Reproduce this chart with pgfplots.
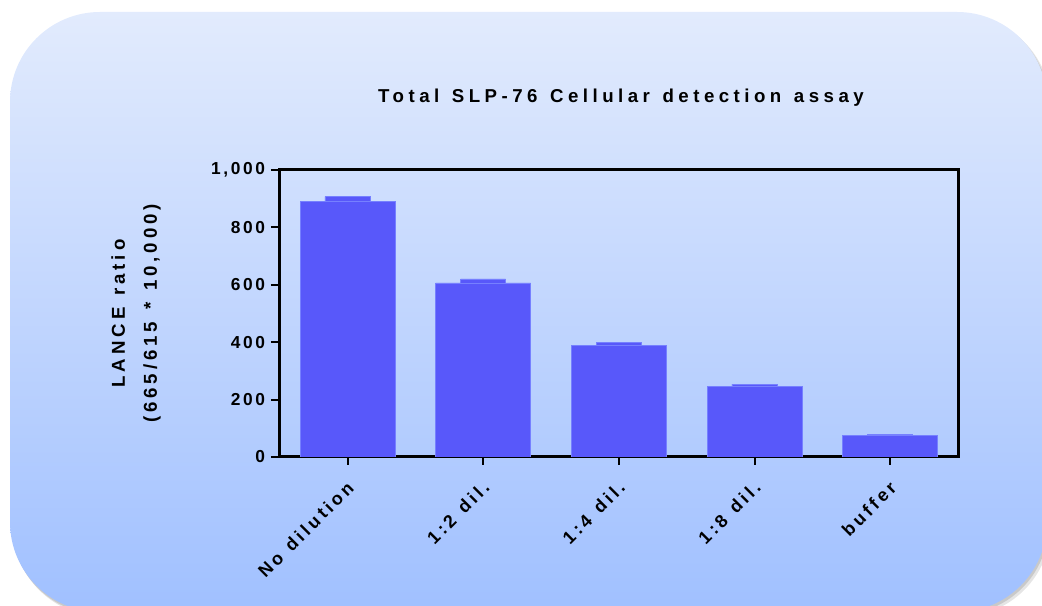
\documentclass[border=0pt]{standalone}
\usepackage{pgfplots}
\pgfplotsset{compat=1.18}
\usepackage{fontspec}
\setmainfont{Liberation Sans}
\newfontfamily\lsA{Liberation Sans}[LetterSpace=19, WordSpace=1.2]
\newfontfamily\lsB{Liberation Sans}[LetterSpace=24, WordSpace=1.3]
\newfontfamily\lsC{Liberation Sans}[LetterSpace=15]
\newfontfamily\lsD{Liberation Sans}[LetterSpace=21, WordSpace=1.3]
\definecolor{barblue}{RGB}{88,88,250}
\definecolor{baredge}{RGB}{118,128,255}
\definecolor{bgtop}{RGB}{226,235,253}
\definecolor{bgbot}{RGB}{160,192,255}
\pgfplotstableread{
x mean top
0 890 907
1 607 621
2 388 399
3 245 254
4 75 80
}\datatable
\begin{document}
\begin{tikzpicture}
\useasboundingbox (0pt,0pt) rectangle (781.5pt,454.5pt);
% shadow
\fill[black, opacity=0.10, rounded corners=68pt] (9.5pt,-8pt) rectangle (788pt,443pt);
\fill[black, opacity=0.12, rounded corners=68pt] (8.5pt,-6.5pt) rectangle (786.5pt,444pt);
% background
\shade[top color=bgtop, bottom color=bgbot, rounded corners=67.5pt] (7.5pt,-4.5pt) rectangle (785.25pt,445.5pt);
% title
\node[anchor=base, inner sep=0pt, font={\fontsize{14}{16}\lsB\bfseries}] at (465.75pt,377.8pt) {Total SLP-76 Cellular detection assay};
\begin{axis}[
  at={(209.25pt,111.75pt)}, anchor=south west,
  scale only axis, width=509.25pt, height=215.25pt,
  xmin=-0.505, xmax=4.5, ymin=0, ymax=1000,
  axis line style={line width=2.25pt, black},
  ybar, bar shift=0pt,
  xtick={0,1,2,3,4},
  xticklabels={No dilution,1:2 dil.,1:4 dil.,1:8 dil.,buffer},
  ytick={0,200,400,600,800,1000},
  yticklabels={0,200,400,600,800,{1,000}},
  tick pos=left, tick align=outside,
  major tick length=6pt,
  tick style={line width=1.5pt, black},
  yticklabel style={xshift=-1pt, font={\fontsize{13}{15}\lsC\bfseries}},
  xticklabel style={yshift=-14pt, xshift=3pt, rotate=45, anchor=east, inner sep=1pt, font={\fontsize{13.5}{15}\lsA\bfseries}},
  ylabel={LANCE ratio\\(665/615 * 10,000)},
  ylabel style={at={(axis description cs:-0.2106,0.5)}, anchor=center, align=center, font={\fontsize{14}{24}\lsD\bfseries}},
]
\addplot[fill=barblue, draw=baredge, line width=0.4pt, bar width=0.332] table[x=x, y=top] {\datatable};
\addplot[fill=barblue, draw=baredge, line width=0.4pt, bar width=0.70] table[x=x, y=mean] {\datatable};
\end{axis}
\end{tikzpicture}
\end{document}
